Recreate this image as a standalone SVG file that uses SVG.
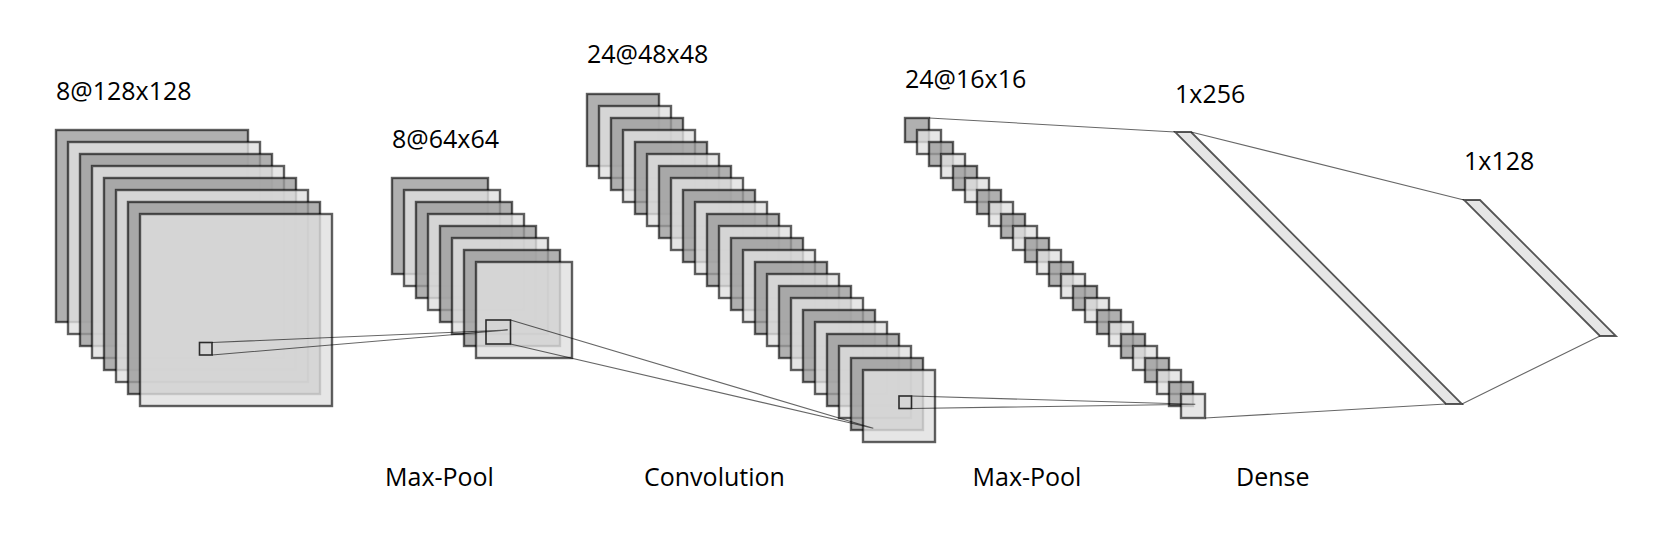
<svg xmlns="http://www.w3.org/2000/svg" width="1678" height="538" viewBox="0 0 1678 538">
<style>
text{font-family:"Open Sans","Noto Sans","Liberation Sans",sans-serif;font-size:25px;fill:#000}
.m,.l{stroke:#000;stroke-opacity:.62;stroke-width:2.4}
.m{fill:#9c9c9c;fill-opacity:.8}
.l{fill:#e0e0e0;fill-opacity:.8}
.a{width:192px;height:192px}
.b{width:96px;height:96px}
.c{width:72px;height:72px}
.d{width:24px;height:24px}
.k{fill:none;stroke:#000;stroke-opacity:.8;stroke-width:1.6}
.w{stroke:#000;stroke-opacity:.6;stroke-width:1.1;fill:none}
.f{fill:#e0e0e0;fill-opacity:.8;stroke:#000;stroke-opacity:.65;stroke-width:1.8}
</style>
<rect width="1678" height="538" fill="#fff"/>
<g id="layer-1">
<rect class="a m" x="56" y="130"/><rect class="a l" x="68" y="142"/><rect class="a m" x="80" y="154"/><rect class="a l" x="92" y="166"/><rect class="a m" x="104" y="178"/><rect class="a l" x="116" y="190"/><rect class="a m" x="128" y="202"/><rect class="a l" x="140" y="214"/>
<rect class="k" x="199.500" y="342.500" width="12.500" height="12.500"/>
<text x="56" y="100">8@128x128</text>
</g>
<g id="layer-2">
<rect class="b m" x="392" y="178"/><rect class="b l" x="404" y="190"/><rect class="b m" x="416" y="202"/><rect class="b l" x="428" y="214"/><rect class="b m" x="440" y="226"/><rect class="b l" x="452" y="238"/><rect class="b m" x="464" y="250"/><rect class="b l" x="476" y="262"/>
<rect class="k" x="486" y="320" width="24.500" height="24"/>
<text x="392" y="148">8@64x64</text>
</g>
<g id="layer-3">
<rect class="c m" x="587" y="94"/><rect class="c l" x="599" y="106"/><rect class="c m" x="611" y="118"/><rect class="c l" x="623" y="130"/><rect class="c m" x="635" y="142"/><rect class="c l" x="647" y="154"/><rect class="c m" x="659" y="166"/><rect class="c l" x="671" y="178"/><rect class="c m" x="683" y="190"/><rect class="c l" x="695" y="202"/><rect class="c m" x="707" y="214"/><rect class="c l" x="719" y="226"/><rect class="c m" x="731" y="238"/><rect class="c l" x="743" y="250"/><rect class="c m" x="755" y="262"/><rect class="c l" x="767" y="274"/><rect class="c m" x="779" y="286"/><rect class="c l" x="791" y="298"/><rect class="c m" x="803" y="310"/><rect class="c l" x="815" y="322"/><rect class="c m" x="827" y="334"/><rect class="c l" x="839" y="346"/><rect class="c m" x="851" y="358"/><rect class="c l" x="863" y="370"/>
<rect class="k" x="899" y="396" width="12.500" height="12.500"/>
<text x="587" y="63">24@48x48</text>
</g>
<g id="layer-4">
<rect class="d m" x="905" y="118"/><rect class="d l" x="917" y="130"/><rect class="d m" x="929" y="142"/><rect class="d l" x="941" y="154"/><rect class="d m" x="953" y="166"/><rect class="d l" x="965" y="178"/><rect class="d m" x="977" y="190"/><rect class="d l" x="989" y="202"/><rect class="d m" x="1001" y="214"/><rect class="d l" x="1013" y="226"/><rect class="d m" x="1025" y="238"/><rect class="d l" x="1037" y="250"/><rect class="d m" x="1049" y="262"/><rect class="d l" x="1061" y="274"/><rect class="d m" x="1073" y="286"/><rect class="d l" x="1085" y="298"/><rect class="d m" x="1097" y="310"/><rect class="d l" x="1109" y="322"/><rect class="d m" x="1121" y="334"/><rect class="d l" x="1133" y="346"/><rect class="d m" x="1145" y="358"/><rect class="d l" x="1157" y="370"/><rect class="d m" x="1169" y="382"/><rect class="d l" x="1181" y="394"/>
<text x="905" y="88">24@16x16</text>
</g>
<g id="dense-1">
<polygon class="f" points="1175,132 1191,132 1462,404 1446,404"/>
<text x="1175" y="103">1x256</text>
</g>
<g id="dense-2">
<polygon class="f" points="1464,200 1480,200 1616,336 1600,336"/>
<text x="1464" y="170">1x128</text>
</g>
<g id="connectors">
<path class="w" d="M212 342.500L507.700 330M212 355L507.700 330"/>
<path class="w" d="M510.500 320L873.300 428.300M510.500 344L873.300 428.300"/>
<path class="w" d="M911.500 396L1195.300 404.300M911.500 408.500L1195.300 404.300"/>
<path class="w" d="M929 118L1175 132M1205 418L1446 404M1191 132L1464 200M1462 404L1600 336"/>
</g>
<g id="labels">
<text x="385" y="486">Max-Pool</text>
<text x="644" y="486">Convolution</text>
<text x="972.500" y="486">Max-Pool</text>
<text x="1236" y="486">Dense</text>
</g>
</svg>
